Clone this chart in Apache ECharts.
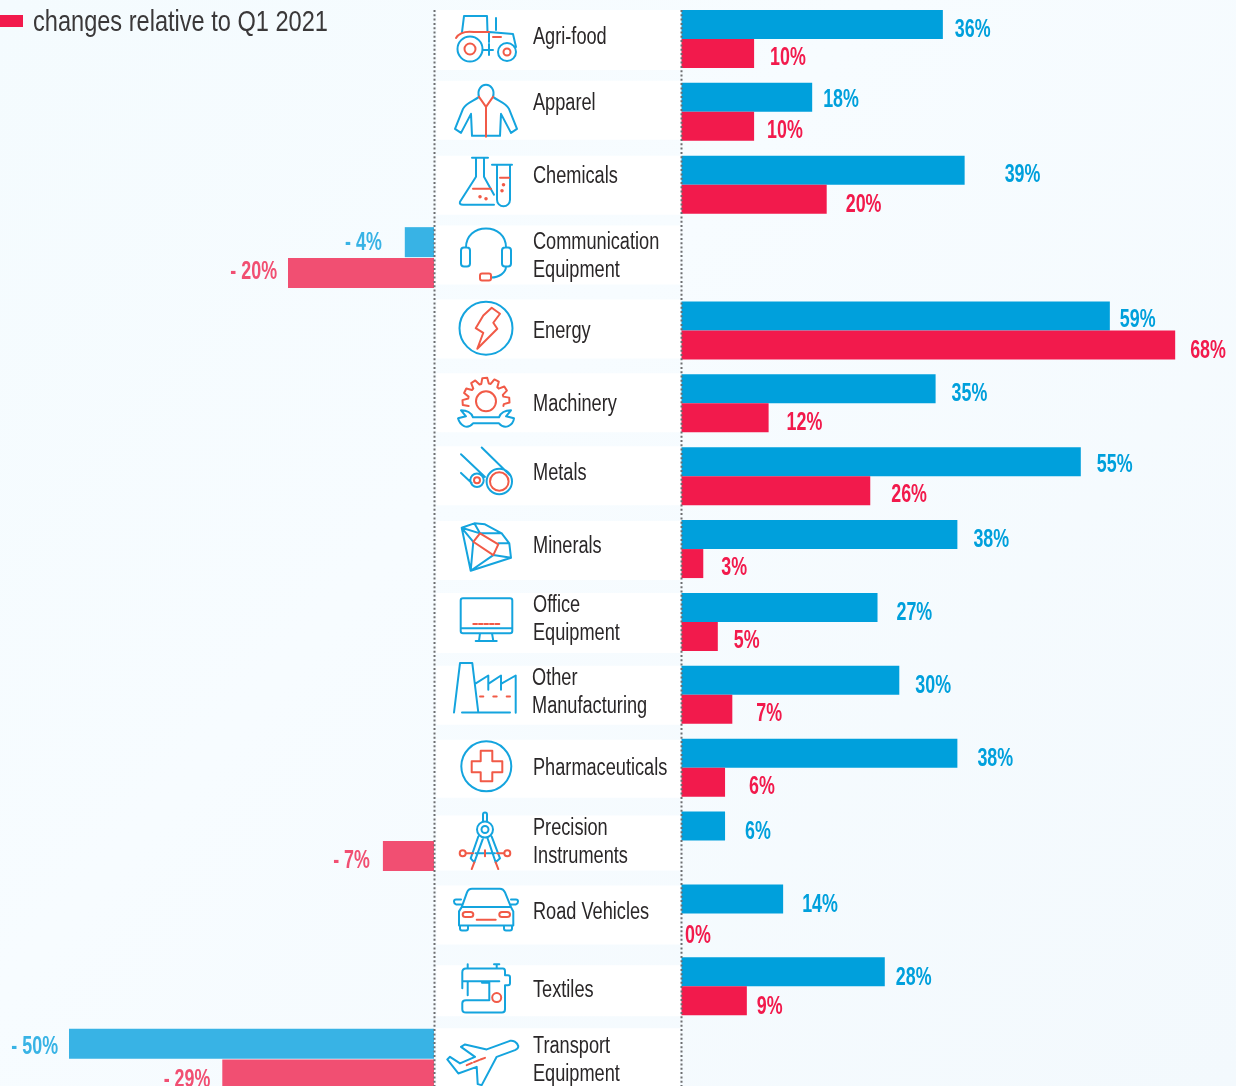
<!DOCTYPE html>
<html>
<head>
<meta charset="utf-8">
<style>html,body{margin:0;padding:0;overflow:hidden}#chart{width:1236px;height:1086px}</style>
<script src="https://cdn.jsdelivr.net/npm/echarts@6/dist/echarts.min.js"></script>
</head>
<body>
<div id="chart"></div>
<script>
// Sector names
const categories = ['Agri-food','Apparel','Chemicals','Communication\nEquipment','Energy','Machinery','Metals','Minerals','Office\nEquipment','Other\nManufacturing','Pharmaceuticals','Precision\nInstruments','Road Vehicles','Textiles','Transport\nEquipment'];

// Changes in percent, one entry per sector; a sector that has no bar on a side holds null
const blueGains = [36,18,39,null,59,35,55,38,27,30,38,6,14,28,null];
const redGains = [10,10,20,null,68,12,26,3,5,7,6,null,0,9,null];
const blueLosses = [null,null,null,-4,null,null,null,null,null,null,null,null,null,null,-50];
const redLosses = [null,null,null,-20,null,null,null,null,null,null,null,-7,null,null,-29];
const legendText = 'changes relative to Q1 2021';

// Label placement: [gap from the bar end, vertical shift]
const blueGainLabel = [[12,5],[11,3],[40,5],null,[10,3.5],[16,5.5],[16,3.5],[16,5.5],[19,5.5],[16,5.5],[20,5.5],[20,6],[19,6.5],[11,6.5],null];
const redGainLabel = [[16,4.5],[13,4.5],[19,5.5],null,[15,5.5],[18,5.5],[21,4.5],[18,4.5],[16,4.5],[24,4.5],[24,4.5],null,[3.5,8.5],[10,6.5],null];
const blueLossLabel = {3:[23,0],14:[11,3]};
const redLossLabel = {3:[11,-1],11:[13,5],14:[12,5]};

// White panel limits around each row centre, and the vertical shift of each name
const panelTop = [-29,-31,-29,-32,-31,-30,-30,-28,-29,-29,-28,-25,-28,-21,-31];
const panelBottom = [31,28,30,27,28,29,29,31,31,30,30,30,31,30,31];
const nameShift = [-1,-8,-8,-1,1,1,-3,-2,-2,-2,1,2,-1,4,2];
const nameInset = [0,0,0,0,0,0,0,0,0,-1,0,0,0,0,0];

const FONT = '"Liberation Sans",Arial,sans-serif';
const NAME_SQUEEZE = 0.79, VALUE_SQUEEZE = 0.7, LEGEND_SQUEEZE = 0.813;
const BLUE = '#00a0dc', RED = '#f21a4c', LOSS_BLUE = '#38b3e5', LOSS_RED = '#f14f72';
const ICON_BLUE = '#14a4de', ICON_RED = '#f15a47';

const ring = (cx, cy, r) => `M${cx-r} ${cy}a${r} ${r} 0 1 0 ${2*r} 0a${r} ${r} 0 1 0 ${-2*r} 0`;

// Open-bottomed cog outline for the machinery icon
function cog(cx, cy, rIn, rOut, teeth, fromDeg, toDeg) {
  const step = (toDeg - fromDeg) / teeth, pts = [];
  const at = (deg, r) => [cx + r * Math.cos(deg * Math.PI / 180), cy + r * Math.sin(deg * Math.PI / 180)];
  for (let t = 0; t < teeth; t++) {
    const a = fromDeg + t * step;
    pts.push(at(a, rIn), at(a + step * 0.2, rOut), at(a + step * 0.6, rOut), at(a + step * 0.8, rIn));
  }
  pts.push(at(toDeg, rIn));
  return 'M' + pts.map(p => p[0].toFixed(1) + ' ' + p[1].toFixed(1)).join('L');
}

// Line icons in local coordinates around each row centre: [blue strokes, red strokes]
const icons = [
  [ 'M-22 -23H1M-22 -23L-24 -7M1 -23L1.5 -7M3 -7L27 -5L30 8M3 -7V3M10 -21V-9M-3 11H7M3 5V16' + ring(-16,10,12.5) + ring(21,13,9),
    'M-30 -1C-27 -6 -20 -8 -12 -7H3M7 -2H15' + ring(-16,10,5.5) + ring(21,13,3.5) ],
  [ 'M-7 -15C-9 -22 -5 -27 0 -27C5 -27 9 -22 7 -15C12 -11 20 -9 23 -3L31 17L25 21L15 2L14 24H-14L-15 2L-25 21L-31 17L-23 -3C-20 -9 -12 -11 -7 -15',
    'M-7 -15L0 -5L7 -15M0 -5V25' ],
  [ 'M-14 -27H2M-10 -27V-8L-26 17Q-27 20 -23 20H8M-2 -27V-8L8 10M6 -20H26M11 -20V15A6.5 6.5 0 0 0 24 15V-20',
    'M-13 4H5M14 -7H23' + ring(-6,12,0.8) + ring(0,14,0.8) + ring(17.5,0,0.8) + ring(16,6,0.8) ],
  [ 'M-20 -10C-20 -22 -11 -29 0 -29C11 -29 20 -22 20 -10M-22 -10H-19Q-16 -10 -16 -7V6Q-16 9 -19 9H-22Q-25 9 -25 6V-7Q-25 -10 -22 -10ZM19 -10H22Q25 -10 25 -7V6Q25 9 22 9H19Q16 9 16 6V-7Q16 -10 19 -10ZM20 9C20 15 13 20 5 20',
    'M-4 16H3Q5 16 5 18V21Q5 23 3 23H-4Q-6 23 -6 21V18Q-6 16 -4 16Z' ],
  [ ring(0,-2.3,26.5),
    'M5.7 -22.7L14 -16.7L7.3 -7.7L11.3 -1.7L-8.7 18.3L-2.7 2.3L-10.3 -2.3L-2.7 -15Z' ],
  [ 'M-13 14H13C15 9 20 7 25 7L20 13L28 15C27 22 19 27 13 20H-13C-19 27 -26 22 -28 15L-20 13L-25 7C-20 7 -15 9 -13 14Z',
    cog(0,-2,18,23.5,7,165,375) + ring(0,-2,10) ],
  [ 'M-4.3 -28.7L24 -1M-25 -22L-1 0.7M-25 -3.3L-14.3 6.7' + ring(13.3,5.3,12.7) + ring(-9,4,6.7),
    ring(13.3,5.3,9.3) + ring(-9,4,3) ],
  [ 'M-24.3 -21.3L-11.7 -25.7L-1 -24.7L15.7 -15.7L23.3 -5.7L25 8.7L-15.3 21.7ZM-24.3 -21.3L-12.7 -7.3L-15.3 21.7M-11.7 -25.7L-6 -15.7L-24.3 -21.3M-6 -15.7L15.7 -15.7M12.3 -5.7H23.3M7.3 6L25 8.7M7.3 6L-15.3 21.7',
    'M-6 -15.7L12.3 -4.7L7.3 6L-12.7 -7.3Z' ],
  [ 'M-23 -23.7H24Q26.3 -23.7 26.3 -21.5V9Q26.3 11.3 24 11.3H-23Q-25.3 11.3 -25.3 9V-21.5Q-25.3 -23.7 -23 -23.7ZM-25.3 6.3H26.3M-6 11.3L-7 19M6 11.3L7.3 19M-10.3 19H10.7',
    'M-12.7 2H-9M-7 2H-3.5M-1.5 2H2M4 2H7.5M9.5 2H13.3' ],
  [ 'M-24 17.7H24M-32 17.7L-26 -31.7H-13.7L-7.7 17.7M-11 -11L2.3 -19.3V-5M2.3 -11L15 -19.3V-5M15 -11L29.7 -19.3V18',
    'M-6 1.7H-2.7M7.3 1.7H10.7M20.7 1.7H24' ],
  [ ring(0.3,-1.3,25),
    'M-5.3 -17H6.3V-6.3H16.3V4.7H6.3V13.7H-5.3V4.7H-14.3V-6.3H-5.3Z' ],
  [ 'M-3 -19V-26Q-3 -28 -1 -28Q1 -28 1 -26V-19M-7.7 -4L-15.3 17.8L-11.7 21.8L-2.7 -3M5.7 -4L14 17.8L9.7 21.8L1.3 -3M-10.5 12.8H9' + ring(-1,-11,8) + ring(-1,-11,3.5),
    'M-20 12.8H-13M11 12.8H18M-1 9.8V15.8M-11.7 21.8L-14.3 28.5M9.7 21.8L12.3 28.5' + ring(-23.3,12.8,3) + ring(21.3,12.8,3) ],
  [ 'M-24.3 -6.3L-19 -21Q-17.7 -24.7 -14 -24.7H14Q17.3 -24.7 19 -21L25 -6.3M-24.3 -6.3H25M-24.3 -6.3L-27 -2V12H27.3V-2L25 -6.3M-26 12V15Q-26 17 -24 17H-20Q-18 17 -18 15V12M18 12V15Q18 17 20 17H24Q26 17 26 15V12M-24 -9H-30Q-32 -10 -32 -12Q-32 -14 -30 -14H-25M24 -9H30Q32 -10 32 -12Q32 -14 30 -14H25',
    'M-20.5 -1.3H-15.5Q-12.7 -1.3 -12.7 1.2Q-12.7 3.7 -15.5 3.7H-20.5Q-23.3 3.7 -23.3 1.2Q-23.3 -1.3 -20.5 -1.3ZM16 -1.3H21Q24 -1.3 24 1.2Q24 3.7 21 3.7H16Q13.3 3.7 13.3 1.2Q13.3 -1.3 16 -1.3ZM-9.3 6.3H9.7' ],
  [ 'M-23.7 2V-14Q-23.7 -17.7 -20 -17.7H17Q19 -17.7 19 -15V-11H22Q24 -11 24 -9V-3Q24 -1 22 -1H19V23Q19 26.3 16 26.3H-20Q-23.7 26.3 -23.7 23V17Q-23.7 14 -20 14H3.3V-5M-23.7 -5H13.3M-18.3 -5V9M-18.3 -22V-17.7M10.7 -22V-17.7M8 -22H13.3M-6 -5H3.3M-4 -3.5H3.3',
    ring(10.7,11.3,4.5) ],
  [ 'M32.3 -13C31 -17 27 -19 24 -18.3L0.7 -9.7L-21 -14.7L-25 -12.3L-11 -2.3L-26 4.3L-36 -2.3L-38.7 0.3L-27.7 14.3L-9.3 7.7L-8.3 25L-4.3 26L10.7 -2.3L29 -9C31 -10 32.3 -11 32.3 -13Z',
    'M-19.3 6L-14 3.8M-12 3L-7 1M-5.5 0.4L-1 -1.3' ]
];

// Icon, white panel and sector name for one row
function renderRow(params, api) {
  const i = params.dataIndex;
  const c = api.coord([0, i]);
  const iconX = c[0] - 195.5, textX = c[0] - 148.5 + nameInset[i];
  const stroke = (d, color) => ({
    type: 'path', x: iconX, y: c[1], shape: { pathData: d },
    style: { fill: 'none', stroke: color, lineWidth: 2, lineJoin: 'round', lineCap: 'round' }
  });
  return { type: 'group', children: [
    { type: 'rect',
      shape: { x: c[0] - 245, y: c[1] + panelTop[i], width: 243.5, height: panelBottom[i] - panelTop[i] },
      style: { fill: '#ffffff' } },
    stroke(icons[i][0], ICON_BLUE),
    stroke(icons[i][1], ICON_RED),
    { type: 'text', x: textX, y: c[1] + nameShift[i], scaleX: NAME_SQUEEZE, style: {
        text: categories[i], fill: '#2a2728', align: 'left', verticalAlign: 'middle',
        fontFamily: FONT, fontSize: 23, lineHeight: 28 } }
  ] };
}

// Percent labels sit beside the bar ends; bandShift picks the upper or lower bar of a row
function valueLabels(name, values, layout, color, axis, bandShift) {
  const side = axis === 1 ? 1 : -1;
  return {
    type: 'custom', name, xAxisIndex: axis, yAxisIndex: axis, silent: true, z: 5,
    data: values.map((v, i) => [v, i]).filter(d => d[0] !== null),
    renderItem(params, api) {
      const v = api.value(0), i = api.value(1);
      const c = api.coord([v, i]), p = layout[i];
      return {
        type: 'text', x: c[0] + side * p[0], y: c[1] + bandShift + p[1], scaleX: VALUE_SQUEEZE,
        style: {
          text: v < 0 ? '- ' + Math.abs(v) + '%' : v + '%', fill: color,
          align: side > 0 ? 'left' : 'right', verticalAlign: 'middle',
          fontFamily: FONT, fontWeight: 'bold', fontSize: 25.5
        }
      };
    }
  };
}

const dotted = x => ({
  type: 'line', silent: true, z: 100,
  shape: { x1: x, y1: 10, x2: x, y2: 1086 },
  style: { stroke: '#6d6e71', lineWidth: 2, lineDash: [2, 2.3] }
});

const chart = echarts.init(document.getElementById('chart'), null, { width: 1236, height: 1086 });
chart.setOption({
  animation: false,
  backgroundColor: {
    type: 'linear', x: 0, y: 0, x2: 1, y2: 1,
    colorStops: [{ offset: 0, color: '#f4fbfe' }, { offset: 0.4, color: '#f7fcff' }, { offset: 1, color: '#f3f9fd' }]
  },
  grid: [
    { left: 3.3, width: 430.7, top: 2.57, height: 1093, outerBoundsMode: 'none' },
    { left: 681.5, width: 551.76, top: 2.57, height: 1093, outerBoundsMode: 'none' }
  ],
  xAxis: [
    { gridIndex: 0, type: 'value', min: -59, max: 0, show: false },
    { gridIndex: 1, type: 'value', min: 0, max: 76, show: false }
  ],
  yAxis: [
    { gridIndex: 0, type: 'category', inverse: true, data: categories, show: false },
    { gridIndex: 1, type: 'category', inverse: true, data: categories, show: false }
  ],
  graphic: { elements: [
    dotted(434.5), dotted(681.5),
    { type: 'rect', silent: true, shape: { x: 0, y: 15, width: 23, height: 12 }, style: { fill: RED } },
    { type: 'text', silent: true, x: 33, y: 23, scaleX: LEGEND_SQUEEZE, style: {
        text: legendText, fill: '#3a3839', align: 'left', verticalAlign: 'middle',
        fontFamily: FONT, fontSize: 29 } }
  ] },
  series: [
    { type: 'custom', name: 'rows', xAxisIndex: 1, yAxisIndex: 1, silent: true, z: 1,
      data: categories.map((c, i) => [0, i]), renderItem: renderRow },
    { type: 'bar', name: 'blue gains', xAxisIndex: 1, yAxisIndex: 1, barWidth: 29, barGap: 0, z: 3,
      itemStyle: { color: BLUE }, data: blueGains },
    { type: 'bar', name: 'red gains', xAxisIndex: 1, yAxisIndex: 1, barWidth: 29, barGap: 0, z: 3,
      itemStyle: { color: RED }, data: redGains },
    { type: 'bar', name: 'blue losses', xAxisIndex: 0, yAxisIndex: 0, barWidth: 30, barGap: '3%', z: 3,
      itemStyle: { color: LOSS_BLUE }, data: blueLosses },
    { type: 'bar', name: 'red losses', xAxisIndex: 0, yAxisIndex: 0, barWidth: 30, barGap: '3%', z: 3,
      itemStyle: { color: LOSS_RED }, data: redLosses },
    valueLabels('blue gain labels', blueGains, blueGainLabel, BLUE, 1, -14.5),
    valueLabels('red gain labels', redGains, redGainLabel, RED, 1, 14.5),
    valueLabels('blue loss labels', blueLosses, blueLossLabel, LOSS_BLUE, 0, -15),
    valueLabels('red loss labels', redLosses, redLossLabel, LOSS_RED, 0, 15.5)
  ]
});
</script>
</body>
</html>
